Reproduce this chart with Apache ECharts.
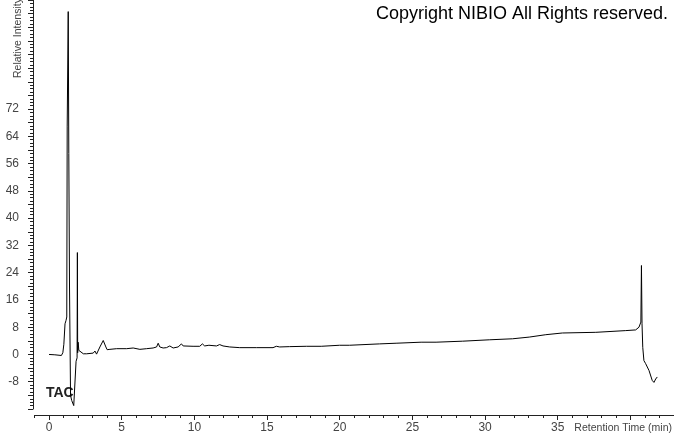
<!DOCTYPE html>
<html>
<head>
<meta charset="utf-8">
<script src="https://cdn.jsdelivr.net/npm/echarts@6/dist/echarts.min.js"></script>
<style>
html,body{margin:0;padding:0;background:#fff;}
#chart{width:674px;height:434px;}
</style>
</head>
<body>
<div id="chart"></div>
<script>
// Retention time (min)
var times = [0.00,0.40,0.85,0.95,1.02,1.10,1.17,1.22,1.25,1.29,1.32,1.36,1.40,1.41,1.46,1.48,1.56,1.70,1.82,1.86,1.93,1.95,1.97,2.00,2.05,2.13,2.36,2.59,3.04,3.16,3.27,3.50,3.73,3.85,3.91,4.00,4.19,4.65,5.34,5.79,6.25,6.71,7.16,7.40,7.51,7.62,7.85,8.08,8.31,8.54,8.88,9.11,9.23,9.91,10.37,10.55,10.71,11.00,11.52,11.74,11.97,12.43,13.12,14.26,15.41,15.64,15.87,16.55,17.70,18.73,18.84,19.99,20.67,22.73,23.88,25.60,25.71,25.80,26.63,28.46,30.29,31.89,33.04,34.18,35.32,37.62,39.68,40.36,40.59,40.72,40.76,40.80,40.85,40.93,41.05,41.28,41.50,41.62,41.74,41.85];
// Relative intensity
var intensity = [0,-0.1,-0.3,0.5,3,9,10,11,67,67,100.6,59,59,19.5,19.5,-12,-13.5,-15,-15,-2,-1,29.9,0.5,3.6,1.2,0.7,0.2,0.2,0.4,1.0,0.1,2.2,4.1,4.4,2.2,1.4,1.5,1.7,1.7,1.9,1.5,1.7,1.9,2.2,3.3,2.2,1.9,2.0,2.5,1.9,2.2,3.1,2.5,2.4,2.4,3.1,2.5,2.7,2.5,2.9,2.5,2.2,2.0,2.0,2.0,2.4,2.2,2.3,2.4,2.4,2.7,2.7,2.7,3.1,3.3,3.6,4.1,3.6,3.6,3.9,4.3,4.6,5.1,5.8,6.3,6.5,7.0,7.2,8.0,9.5,26.1,9.0,2.1,-1.8,-2.7,-4.7,-7.6,-8.2,-7.2,-6.6];
var xTickLabels = [0,5,10,15,20,25,30,35];
var xMajorTicks = [0,5,10,15,20,25,30,35,40];
var yTickLabels = [-8,0,8,16,24,32,40,48,56,64,72];
var xName = 'Retention Time (min)';
var yName = 'Relative Intensity';
var copyright = 'Copyright NIBIO All Rights reserved.';
var traceLabel = 'TAC';

var minuteTicks = [];
for (var m = -1; m <= 43; m++) minuteTicks.push(m);

var data = times.map(function (t, i) { return [t, intensity[i]]; });

var axisColor = '#222';
var labelColor = '#444';
var font = 'Liberation Sans, Arial, sans-serif';

var chart = echarts.init(document.getElementById('chart'), null, {renderer: 'canvas'});
chart.setOption({
  animation: false,
  backgroundColor: '#ffffff',
  grid: {left: 34.5, right: 0, top: -1, bottom: 25, containLabel: false},
  xAxis: [{
    type: 'value', min: -1, max: 43, offset: 6, position: 'bottom',
    axisLine: {show: true, onZero: false, lineStyle: {color: axisColor, width: 1}},
    axisTick: {show: true, length: 3, customValues: minuteTicks, lineStyle: {color: axisColor}},
    axisLabel: {show: false},
    splitLine: {show: false}
  }, {
    type: 'value', min: -1, max: 43, offset: 6, position: 'bottom',
    axisLine: {show: false, onZero: false},
    axisTick: {show: true, length: 5, customValues: xMajorTicks, lineStyle: {color: axisColor}},
    axisLabel: {show: true, customValues: xTickLabels, color: labelColor, fontSize: 12, fontFamily: font, margin: 7},
    splitLine: {show: false}
  }],
  yAxis: {
    type: 'value', min: -16, max: 104, interval: 4, offset: 1.5,
    axisLine: {show: true, onZero: false, lineStyle: {color: axisColor, width: 1}},
    axisTick: {show: true, length: 5, lineStyle: {color: axisColor}},
    minorTick: {show: true, splitNumber: 4, length: 3, lineStyle: {color: axisColor}},
    axisLabel: {
      show: true, color: labelColor, fontSize: 12, fontFamily: font, margin: 14,
      formatter: function (v) { return yTickLabels.indexOf(v) >= 0 ? String(v) : ''; }
    },
    splitLine: {show: false},
    minorSplitLine: {show: false}
  },
  series: [{
    type: 'line', xAxisIndex: 0, data: data, showSymbol: false, symbol: 'none',
    lineStyle: {color: '#000', width: 1}, silent: true
  }],
  graphic: [
    {type: 'text', x: 672, y: 428, style: {text: xName, fill: labelColor, font: '10.5px ' + font, textAlign: 'right', textVerticalAlign: 'middle'}},
    {type: 'text', x: 18, y: 78, rotation: Math.PI / 2, style: {text: yName, fill: labelColor, font: '10.5px ' + font, textAlign: 'left', textVerticalAlign: 'middle'}},
    {type: 'text', x: 668, y: 14, style: {text: copyright, fill: '#000', font: '18px ' + font, textAlign: 'right', textVerticalAlign: 'middle'}},
    {type: 'text', x: 46, y: 393, style: {text: traceLabel, fill: '#222', font: 'bold 14px ' + font, textAlign: 'left', textVerticalAlign: 'middle'}}
  ]
});
</script>
</body>
</html>
